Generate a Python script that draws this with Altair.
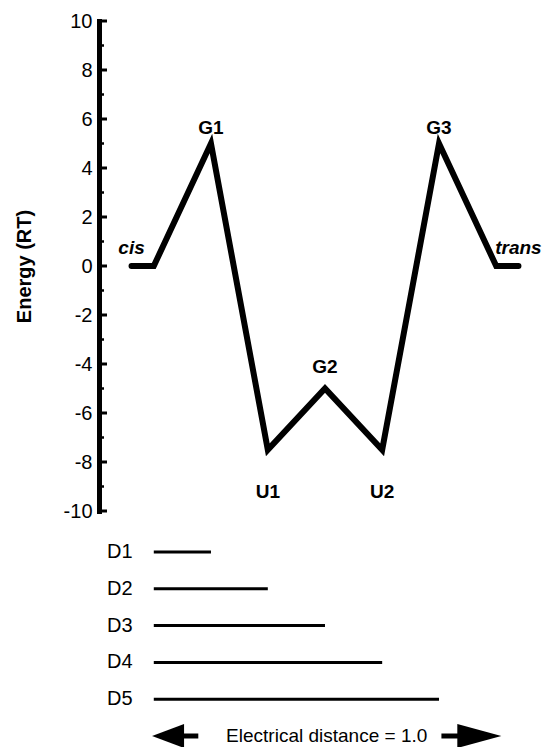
import altair as alt
import pandas as pd

# ---- energy profile (x = electrical distance, y = energy in RT) ----
path_x = [-0.065, 0.0, 0.167, 0.333, 0.5, 0.667, 0.833, 1.0, 1.065]
path_energy = [0, 0, 5, -7.5, -5, -7.5, 5, 0, 0]

label_names = ["cis", "G1", "U1", "G2", "U2", "G3", "trans"]
label_x = [-0.065, 0.167, 0.333, 0.5, 0.667, 0.833, 1.065]
label_e = [0, 5, -7.5, -5, -7.5, 5, 0]
label_pos = ["end", "peak", "well", "mid", "well", "peak", "end"]

y_ticks = [-10, -8, -6, -4, -2, 0, 2, 4, 6, 8, 10]
y_minor = [-9, -7, -5, -3, -1, 1, 3, 5, 7, 9]

# ---- electrical distance bars ----
d_names = ["D1", "D2", "D3", "D4", "D5"]
d_end = [0.167, 0.333, 0.5, 0.667, 0.833]
scale_text = "Electrical distance = 1.0"
arrow_tips = [-0.005, 1.015]
left_shaft = [0.085, 0.13]
right_shaft = [0.84, 0.89]

FONT = "Liberation Sans"
XS = alt.Scale(domain=[-0.16, 1.125], nice=False, zero=False)
YS = alt.Scale(domain=[-10, 10], nice=False, zero=False)
W = 440

path_df = pd.DataFrame({"x": path_x, "e": path_energy, "order": list(range(len(path_x)))})
lab_df = pd.DataFrame({"name": label_names, "x": label_x, "e": label_e, "pos": label_pos})

line = alt.Chart(path_df).mark_line(
    color="black", strokeWidth=6, strokeJoin="miter", strokeCap="round"
).encode(
    x=alt.X("x:Q", scale=XS, axis=None),
    y=alt.Y("e:Q", scale=YS, axis=alt.Axis(
        values=y_ticks, title="Energy (RT)", ticks=False, grid=False,
        labelExpr="toString(datum.value)",
        domainColor="black", domainWidth=5, domainCap="square",
        labelFontSize=20, labelColor="black", labelPadding=7, labelFont=FONT,
        titleFontSize=20, titleFontWeight="bold", titleColor="black", titleFont=FONT,
        titlePadding=29)),
    order="order:Q",
)

ticks_major = alt.Chart(pd.DataFrame({"e": y_ticks})).mark_rule(color="black", strokeWidth=3).encode(
    x=alt.value(0), x2=alt.value(8), y=alt.Y("e:Q", scale=YS))
ticks_minor = alt.Chart(pd.DataFrame({"e": y_minor})).mark_rule(color="black", strokeWidth=2.5).encode(
    x=alt.value(0), x2=alt.value(5), y=alt.Y("e:Q", scale=YS))

def labels(pos, dy, style="normal"):
    return alt.Chart(lab_df).transform_filter(alt.datum.pos == pos).mark_text(
        fontSize=19, fontWeight="bold", fontStyle=style, font=FONT, color="black",
        align="center", baseline="middle", dy=dy
    ).encode(x=alt.X("x:Q", scale=XS), y=alt.Y("e:Q", scale=YS), text="name:N")

top = alt.layer(
    line, ticks_major, ticks_minor,
    labels("peak", -16), labels("mid", -22), labels("well", 42), labels("end", -18, "italic"),
).properties(width=W, height=490)

rows = d_names + ["scale"]
RS = alt.Scale(type="point", domain=rows, padding=0)
d_df = pd.DataFrame({"row": d_names, "start": [0.0] * len(d_names), "end": d_end})

d_rules = alt.Chart(d_df).mark_rule(color="black", strokeWidth=3).encode(
    x=alt.X("start:Q", scale=XS, axis=None), x2="end:Q",
    y=alt.Y("row:N", scale=RS, axis=None))
d_text = alt.Chart(d_df).mark_text(fontSize=20, font=FONT, color="black", align="left", baseline="middle", dx=8).encode(
    x=alt.value(0), y=alt.Y("row:N", scale=RS, axis=None), text="row:N")

sc_df = pd.DataFrame({"row": ["scale"], "mid": [(arrow_tips[0] + arrow_tips[1]) / 2], "label": [scale_text]})
sc_text = alt.Chart(sc_df).mark_text(fontSize=19, font=FONT, color="black", align="center", baseline="middle").encode(
    x=alt.X("mid:Q", scale=XS), y=alt.Y("row:N", scale=RS, axis=None), text="label:N")

shaft_df = pd.DataFrame({"row": ["scale", "scale"], "a": [left_shaft[0], right_shaft[0]], "b": [left_shaft[1], right_shaft[1]]})
shafts = alt.Chart(shaft_df).mark_rule(color="black", strokeWidth=5).encode(
    x=alt.X("a:Q", scale=XS), x2="b:Q", y=alt.Y("row:N", scale=RS, axis=None))

lhead = alt.Chart(pd.DataFrame({"row": ["scale"], "tip": [arrow_tips[0]]})).mark_point(
    shape="M0,0 L2,-0.75 L2,0.75 Z", size=1024, filled=True, color="black", opacity=1, strokeWidth=0
).encode(x=alt.X("tip:Q", scale=XS), y=alt.Y("row:N", scale=RS, axis=None))
rhead = alt.Chart(pd.DataFrame({"row": ["scale"], "tip": [arrow_tips[1]]})).mark_point(
    shape="M0,0 L-2,-0.55 L-2,0.55 Z", size=1936, filled=True, color="black", opacity=1, strokeWidth=0
).encode(x=alt.X("tip:Q", scale=XS), y=alt.Y("row:N", scale=RS, axis=None))

bottom = alt.layer(d_rules, d_text, sc_text, shafts, lhead, rhead).properties(width=W, height=184)

chart = alt.vconcat(
    top, bottom, spacing=41, bounds="flush",
    padding={"left": 6, "top": 3, "right": 5, "bottom": 0},
).configure(font=FONT).configure_view(stroke=None)

chart.save("out.html", embed_options={"renderer": "svg", "actions": False})
